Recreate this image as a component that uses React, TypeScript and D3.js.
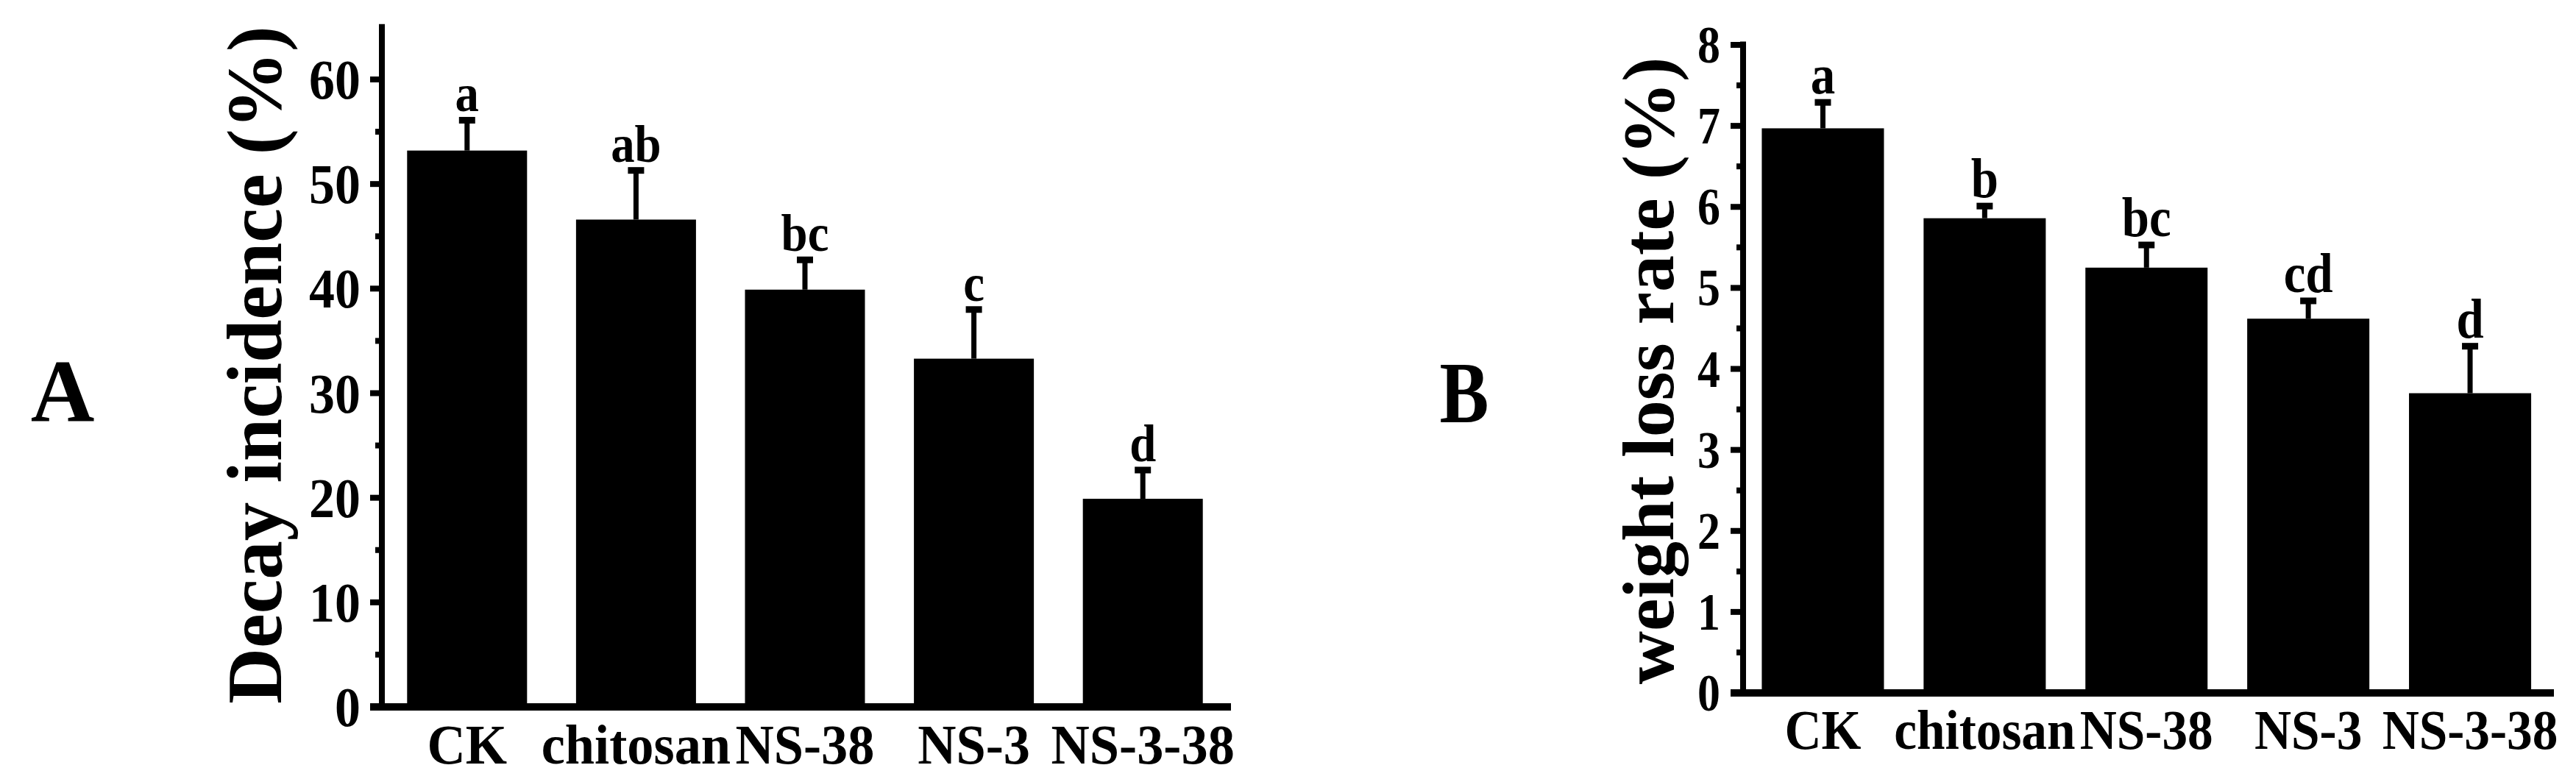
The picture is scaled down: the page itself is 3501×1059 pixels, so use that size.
import React from 'react';
import * as d3 from 'd3';

const categories = ['CK', 'chitosan', 'NS-38', 'NS-3', 'NS-3-38'];

const decayMeans = [53.2, 46.6, 39.9, 33.3, 19.9];
const decayErrors = [2.9, 4.7, 2.85, 4.7, 2.75];
const decayLetters = ['a', 'ab', 'bc', 'c', 'd'];
const decayTicks = [0, 10, 20, 30, 40, 50, 60];
const decayMinorTicks = [5, 15, 25, 35, 45, 55];

const weightMeans = [6.97, 5.86, 5.25, 4.62, 3.7];
const weightErrors = [0.32, 0.15, 0.28, 0.22, 0.58];
const weightLetters = ['a', 'b', 'bc', 'cd', 'd'];
const weightTicks = [0, 1, 2, 3, 4, 5, 6, 7, 8];
const weightMinorTicks = [0.5, 1.5, 2.5, 3.5, 4.5, 5.5, 6.5, 7.5];

const FONT = "'Liberation Serif', 'Times New Roman', serif";

type PanelProps = {
  means: number[];
  errors: number[];
  letters: string[];
  ticks: number[];
  minorTicks: number[];
  yDomainRef: [number, number];
  yRange: [number, number];
  axisTopValue: number;
  xRange: [number, number];
  paddingInner: number;
  axisX: number;
  xAxisEnd: number;
  majorLen: number;
  minorLen: number;
  tickFont: number;
  tickWeight: string;
  tickSx: number;
  tickGap: number;
  tickBaseOff: number;
  xLabFont: number;
  xLabWeight: string;
  xLabSx: number;
  xLabBaseline: number;
  letterFont: number;
  letterWeight: string;
  letterSx: number;
  title: string;
  titleX: number;
  titleY: number;
  titleFont: number;
  panel: string;
  panelX: number;
  panelY: number;
  panelFont: number;
  panelWeight: string;
  panelSx: number;
};

function Panel(p: PanelProps) {
  const y = d3.scaleLinear().domain(p.yDomainRef).range(p.yRange);
  const x = d3
    .scaleBand<string>()
    .domain(categories)
    .range(p.xRange)
    .paddingInner(p.paddingInner)
    .paddingOuter(p.paddingInner / 2);
  const bw = x.bandwidth();
  const y0 = y(0);
  const capW = 22;
  return (
    <g>
      {categories.map((c, i) => {
        const cx = (x(c) as number) + bw / 2;
        const top = y(p.means[i] + p.errors[i]);
        return (
          <g key={c}>
            <rect x={x(c)} y={y(p.means[i])} width={bw} height={y0 - y(p.means[i])} fill="#000" />
            <line x1={cx} x2={cx} y1={y(p.means[i])} y2={top} stroke="#000" strokeWidth={7} />
            <line x1={cx - capW / 2} x2={cx + capW / 2} y1={top} y2={top} stroke="#000" strokeWidth={9} />
            <text
              transform={`translate(${cx},${top - 12}) scale(${p.letterSx},1)`}
              textAnchor="middle"
              fontFamily={FONT}
              fontWeight={p.letterWeight}
              fontSize={p.letterFont}
              fill="#000"
            >
              {p.letters[i]}
            </text>
            <text
              transform={`translate(${cx},${p.xLabBaseline}) scale(${p.xLabSx},1)`}
              textAnchor="middle"
              fontFamily={FONT}
              fontWeight={p.xLabWeight}
              fontSize={p.xLabFont}
              fill="#000"
            >
              {c}
            </text>
          </g>
        );
      })}
      <line x1={p.axisX} x2={p.axisX} y1={y(p.axisTopValue)} y2={y0} stroke="#000" strokeWidth={8} />
      {p.ticks.map((t) => (
        <g key={'t' + t}>
          <line x1={p.axisX - p.majorLen} x2={p.axisX} y1={y(t)} y2={y(t)} stroke="#000" strokeWidth={8} />
          <text
            transform={`translate(${p.axisX - p.majorLen - p.tickGap},${y(t) + p.tickBaseOff}) scale(${p.tickSx},1)`}
            textAnchor="end"
            fontFamily={FONT}
            fontWeight={p.tickWeight}
            fontSize={p.tickFont}
            fill="#000"
          >
            {t}
          </text>
        </g>
      ))}
      {p.minorTicks.map((t) => (
        <line key={'m' + t} x1={p.axisX - p.minorLen} x2={p.axisX} y1={y(t)} y2={y(t)} stroke="#000" strokeWidth={8} />
      ))}
      <line x1={p.axisX - p.majorLen} x2={p.xAxisEnd} y1={y0} y2={y0} stroke="#000" strokeWidth={10} />
      <text
        transform={`translate(${p.titleX},${p.titleY}) rotate(-90)`}
        textAnchor="middle"
        fontFamily={FONT}
        fontWeight="bold"
        fontSize={p.titleFont}
        fill="#000"
      >
        {p.title}
      </text>
      <text
        transform={`translate(${p.panelX},${p.panelY}) scale(${p.panelSx},1)`}
        textAnchor="middle"
        fontFamily={FONT}
        fontWeight={p.panelWeight}
        fontSize={p.panelFont}
        fill="#000"
      >
        {p.panel}
      </text>
    </g>
  );
}

export default function App() {
  return (
    <svg
      width={3501}
      height={1059}
      viewBox="0 0 3501 1059"
      style={{ position: 'absolute', left: 0, top: 0, background: '#fff' }}
    >
      <rect x={0} y={0} width={3501} height={1059} fill="#fff" />
      <Panel
        means={decayMeans}
        errors={decayErrors}
        letters={decayLetters}
        ticks={decayTicks}
        minorTicks={decayMinorTicks}
        yDomainRef={[0, 60]}
        yRange={[961, 108]}
        axisTopValue={65.3}
        xRange={[520, 1668]}
        paddingInner={0.29}
        axisX={519}
        xAxisEnd={1673}
        majorLen={16}
        minorLen={9}
        tickFont={76}
        tickWeight="bold"
        tickSx={0.92}
        tickGap={13}
        tickBaseOff={26}
        xLabFont={77}
        xLabWeight="bold"
        xLabSx={0.94}
        xLabBaseline={1038}
        letterFont={72}
        letterWeight="bold"
        letterSx={0.9}
        title="Decay incidence (%)"
        titleX={382}
        titleY={496}
        titleFont={105}
        panel="A"
        panelX={85}
        panelY={572}
        panelFont={120}
        panelWeight="bold"
        panelSx={1}
      />
      <Panel
        means={weightMeans}
        errors={weightErrors}
        letters={weightLetters}
        ticks={weightTicks}
        minorTicks={weightMinorTicks}
        yDomainRef={[0, 8]}
        yRange={[942, 61]}
        axisTopValue={8.04}
        xRange={[2367.5, 3467]}
        paddingInner={0.245}
        axisX={2369}
        xAxisEnd={3471}
        majorLen={17}
        minorLen={9}
        tickFont={72}
        tickWeight="bold"
        tickSx={0.86}
        tickGap={14}
        tickBaseOff={24}
        xLabFont={77}
        xLabWeight="bold"
        xLabSx={0.9}
        xLabBaseline={1018}
        letterFont={76}
        letterWeight="bold"
        letterSx={0.88}
        title="weight loss rate (%)"
        titleX={2274}
        titleY={504}
        titleFont={100}
        panel="B"
        panelX={1990}
        panelY={574}
        panelFont={118}
        panelWeight="bold"
        panelSx={0.85}
      />
    </svg>
  );
}
